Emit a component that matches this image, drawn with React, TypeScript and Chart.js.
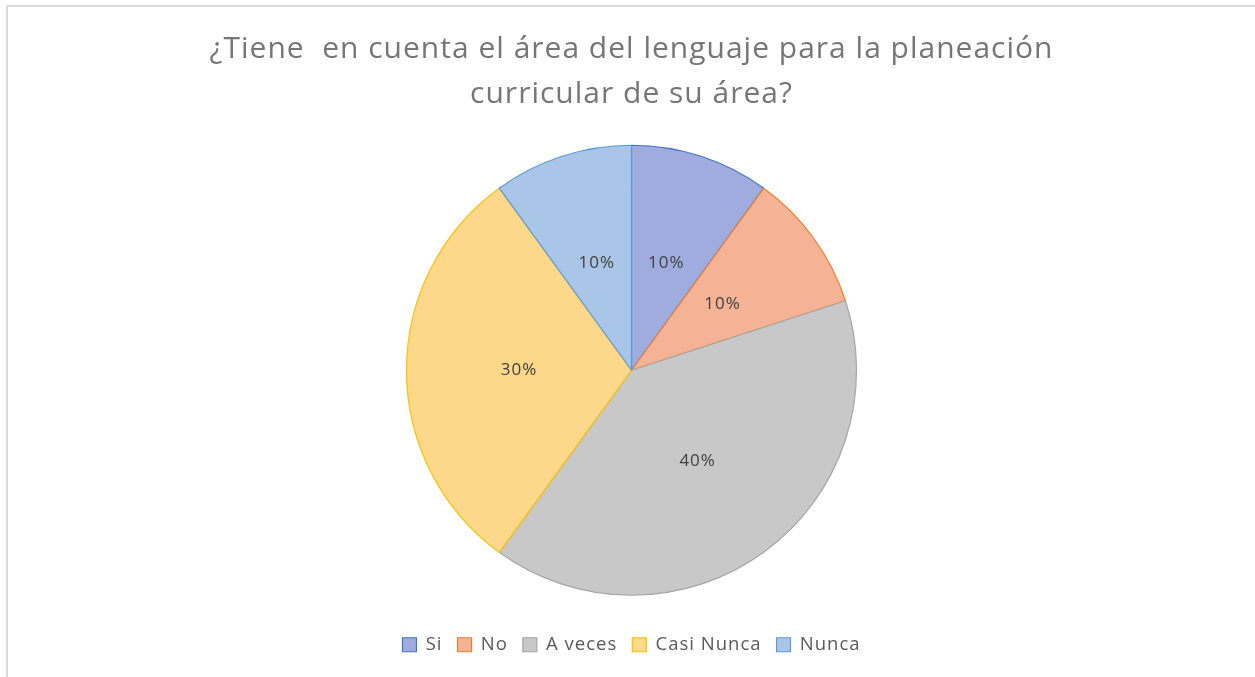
import React, { useEffect, useRef } from "react";
import { Chart, registerables } from "chart.js";

Chart.register(...registerables);

const categories = ["Si", "No", "A veces", "Casi Nunca", "Nunca"];
const values = [10, 10, 40, 30, 10];
const titleLines = ["¿Tiene  en cuenta el área del lenguaje para la planeación", "curricular de su área?"];
const fillColors = ["#9FACDD", "#F5B396", "#C8C8C8", "#FDD88A", "#A9C6E8"];
const borderColors = ["#4472C4", "#ED7D31", "#A5A5A5", "#FFC000", "#5B9BD5"];

const FONT = "'Open Sans', Lato, sans-serif";

const spacingPlugin = {
  id: "letterSpacing",
  beforeLayout(chart: any) {
    (chart.ctx as any).letterSpacing = "1px";
  },
  beforeDraw(chart: any) {
    (chart.ctx as any).letterSpacing = "1px";
  },
};

const labelPlugin = {
  id: "sliceLabels",
  afterDatasetsDraw(chart: any) {
    const ctx = chart.ctx;
    const meta = chart.getDatasetMeta(0);
    const data = chart.data.datasets[0].data as number[];
    ctx.save();
    (ctx as any).letterSpacing = "1px";
    ctx.font = `17px ${FONT}`;
    ctx.fillStyle = "#404040";
    ctx.textAlign = "center";
    ctx.textBaseline = "middle";
    meta.data.forEach((el: any, i: number) => {
      const p = el.tooltipPosition();
      ctx.fillText(`${data[i]}%`, p.x, p.y);
    });
    ctx.restore();
  },
};

export default function App() {
  const ref = useRef<HTMLCanvasElement | null>(null);
  useEffect(() => {
    if (!ref.current) return;
    const chart = new Chart(ref.current, {
      type: "pie",
      data: {
        labels: categories,
        datasets: [
          {
            data: values,
            backgroundColor: fillColors,
            borderColor: borderColors,
            borderWidth: 1.2,
            radius: 225,
          } as any,
        ],
      },
      options: {
        animation: false,
        responsive: true,
        maintainAspectRatio: false,
        layout: { padding: { top: 0, bottom: 13, left: 0, right: 0 } },
        plugins: {
          title: {
            display: true,
            text: titleLines,
            color: "#767676",
            font: { family: FONT, size: 30, weight: "normal", lineHeight: 1.5 },
            padding: { top: 20, bottom: 3 },
          },
          legend: {
            position: "bottom",
            labels: {
              boxWidth: 14,
              boxHeight: 14,
              color: "#595959",
              font: { family: FONT, size: 18.5 },
              padding: 15,
            },
          },
          tooltip: { enabled: false },
        },
      },
      plugins: [spacingPlugin, labelPlugin],
    });
    return () => chart.destroy();
  }, []);
  return (
    <div style={{ position: "absolute", left: 0, top: 0, width: 1255, height: 677, background: "#fff" }}>
      <div
        style={{
          position: "absolute",
          left: 6,
          top: 5,
          width: 1249,
          height: 672,
          borderTop: "2px solid #dadada",
          borderLeft: "2px solid #dadada",
          boxSizing: "border-box",
        }}
      />
      <div style={{ position: "absolute", left: 8, top: 7, width: 1247, height: 670 }}>
        <canvas ref={ref} />
      </div>
    </div>
  );
}
